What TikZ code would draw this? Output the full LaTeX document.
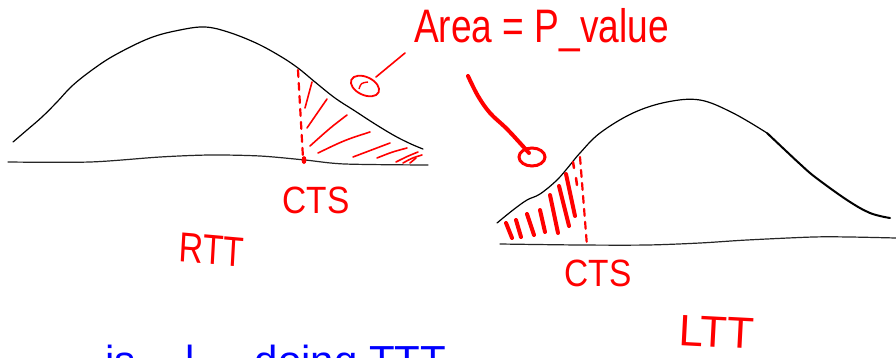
\documentclass[tikz,border=0pt]{standalone}
\usepackage{fontspec}
\setmainfont{Liberation Sans}
\begin{document}
\begin{tikzpicture}[x=1pt,y=-1pt,
  curve/.style={black,line width=1.2pt,line cap=round,line join=round},
  axis/.style={black!85,line width=1.2pt,line cap=round},
  hatch/.style={red,line width=1.6pt,line cap=round},
  thickhatch/.style={red,line width=4pt,line cap=round},
  cut/.style={red,line width=2.2pt,dash pattern=on 7pt off 6pt,line cap=round},
  lbl/.style={red,inner sep=0pt,font=\fontsize{38}{40}\selectfont}
]
\useasboundingbox (0,0) rectangle (896,357);
\clip (0,0) rectangle (896,357);
\fill[white] (0,0) rectangle (896,357);

% ---------- left distribution (RTT) ----------
\draw[curve] plot[smooth,tension=0.6] coordinates {(13,142) (27,130) (42,117) (57,102) (72,86) (92,70) (115,55) (150,38) (180,30) (205,27) (228,32) (256,43) (280,56) (298,68) (315,82) (335,98) (355,111) (375,124) (395,136) (411,144) (423,149)};
\draw[axis] plot[smooth,tension=0.5] coordinates {(8,162) (90,162) (160,157) (210,155) (260,156) (305,160) (345,164) (428,165)};
\draw[cut] (298,70) -- (303,158);
\fill[red] (304,160) ellipse (2.5 and 4);
% hatching
\draw[hatch] (312,82) -- (305,108);
\draw[hatch] (327,99) .. controls (318,112) .. (307,128);
\draw[hatch] (347,115) .. controls (330,128) .. (310,146);
\draw[hatch] (370,132) .. controls (345,140) .. (318,153);
\draw[hatch] (390,143) .. controls (372,150) .. (353,157);
\draw[hatch] (407,148) .. controls (392,152) .. (377,158);
\draw[hatch] (418,152) .. controls (408,156) .. (396,162);
\draw[hatch] (422,155) .. controls (412,158) .. (403,163);
\draw[hatch] (416,158) -- (410,163);
% pointer loop and line
\draw[red,line width=1.8pt] (365,86) ellipse [x radius=15,y radius=9,rotate=-25];
\draw[red,line width=1.4pt] (359,89) .. controls (361,83) .. (368,82);
\draw[red,line width=1.6pt,line cap=round] (376,77) -- (405,53);

% ---------- right distribution (LTT) ----------
\draw[curve] plot[smooth,tension=0.6] coordinates {(497,223) (513,210) (527,200) (540,194) (557,180) (570,165) (580,153) (600,133) (633,113) (667,102) (700,100) (733,113) (767,133)};
\draw[black,line width=2pt,line cap=round] plot[smooth,tension=0.6] coordinates {(767,133) (785,150) (800,164) (815,177) (847,200) (870,213) (890,218)};
\draw[axis] plot[smooth,tension=0.5] coordinates {(500,244) (580,245) (647,245) (700,243) (747,240) (813,237) (850,237) (896,238)};
\draw[cut] (580,157) -- (587,246);
% hatching (dense)
\draw[thickhatch] (506,223) -- (512,238);
\draw[thickhatch] (516,220) -- (521,237);
\draw[thickhatch] (527,214) -- (534,235);
\draw[thickhatch] (540,210) -- (545,232);
\draw[thickhatch] (550,195) -- (558,233);
\draw[thickhatch] (559,186) -- (569,226);
\draw[thickhatch] (566,174) -- (575,216);
\draw[hatch,line width=2.5pt] (573,162) -- (574,168);
\draw[hatch,line width=2.5pt] (576,178) -- (577,185);

% ---------- title and arrow ----------
\node[red,inner sep=0pt,anchor=west,font=\fontsize{47}{49}\selectfont,xscale=0.79] (title) at (414,30) {Area = P\_value};
\coordinate (tip) at (532,157);
\draw[red,line width=4pt,line cap=round] plot[smooth,tension=0.6] coordinates {(468,76) (478,96) (490,113) (506,128) (520,143) (529,153)};
\draw[red,line width=3pt] (tip) ellipse [x radius=13,y radius=9];

% ---------- labels ----------
\node[lbl,xscale=0.88] (cts1) at (316,200) {CTS};
\node[lbl,xscale=0.88] (cts2) at (598,273) {CTS};
\node[lbl,font=\fontsize{42}{44}\selectfont,xscale=0.8,rotate=-4] (rtt) at (212,250) {RTT};
\node[lbl,font=\fontsize{44}{46}\selectfont,rotate=-3] (ltt) at (717,332) {LTT};

% ---------- blue text cut off at the bottom ----------
\node[blue,inner sep=0pt,anchor=north west,font=\fontsize{42}{44}\selectfont] (note) at (105,345) {is\hspace{50pt}l\hspace{60pt}doing TTT};
\end{tikzpicture}
\end{document}
